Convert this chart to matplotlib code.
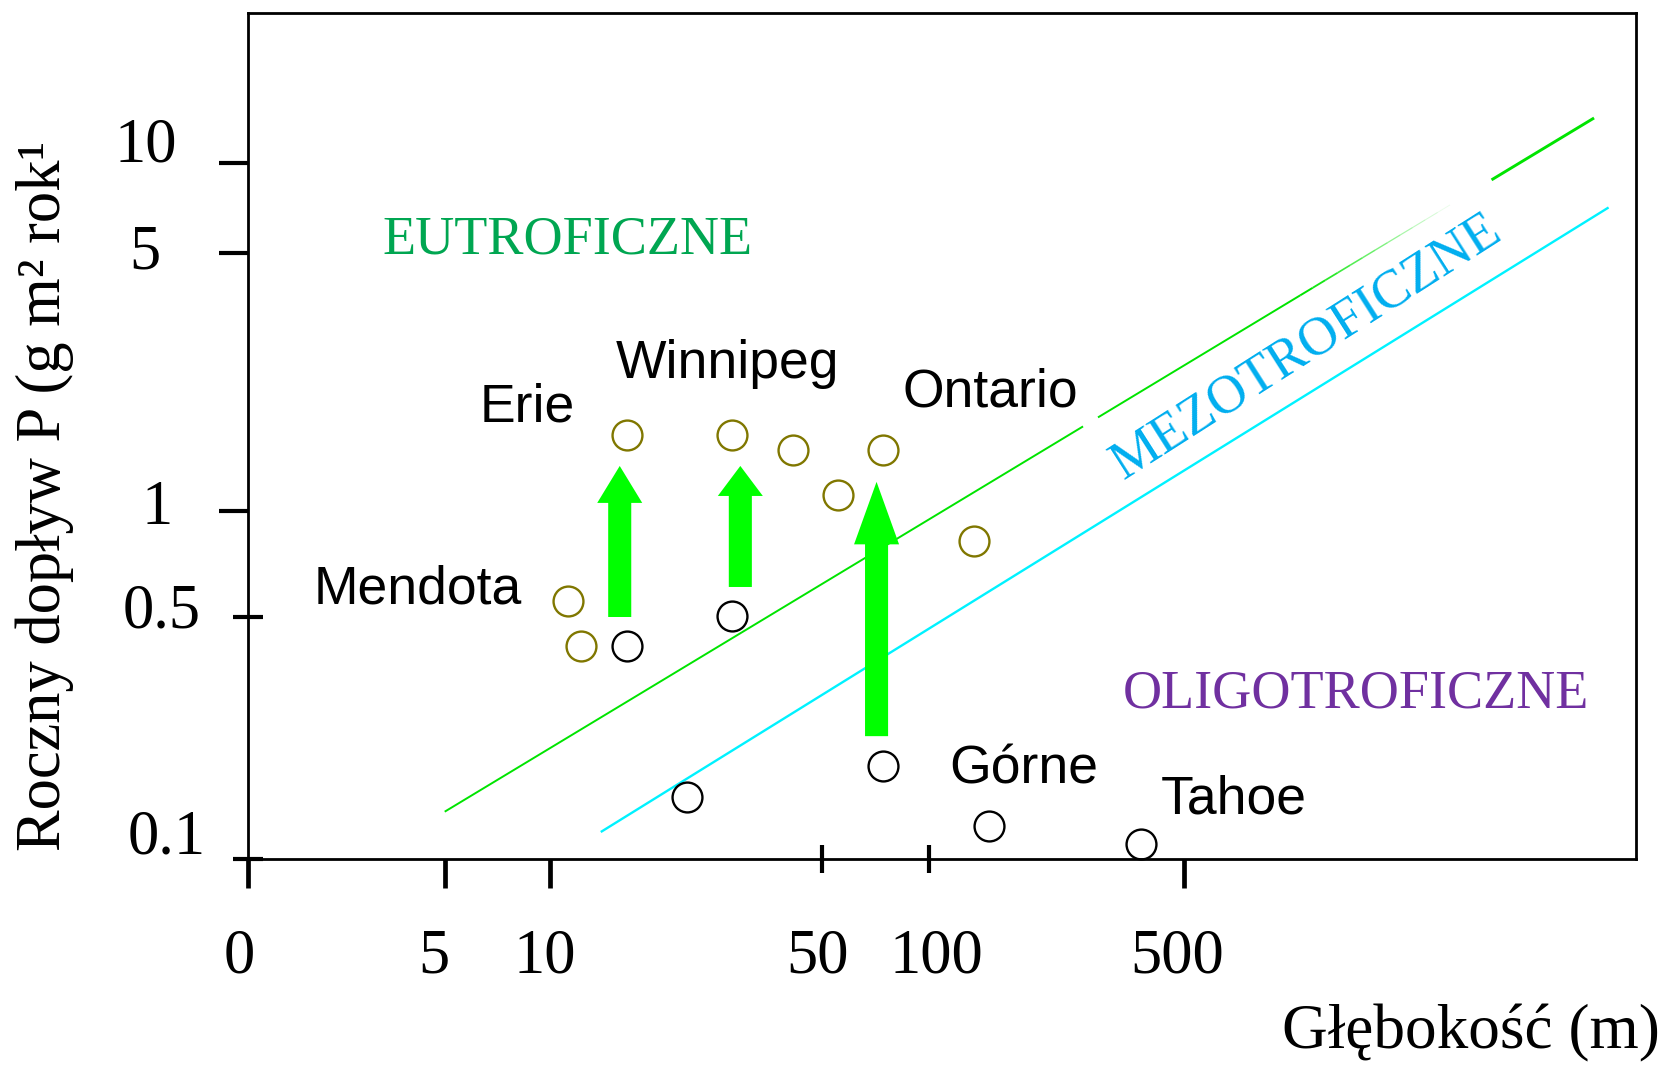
import numpy as np
import matplotlib
matplotlib.use("Agg")
import matplotlib.pyplot as plt
from matplotlib.ticker import FixedLocator, NullFormatter

# ---------------- data ----------------
x_tick_values = [0, 5, 10, 50, 100, 500]
x_tick_labels = ["0", "5", "10", "50", "100", "500"]
y_tick_values = [0.1, 0.5, 1, 5, 10]
y_tick_labels = ["0.1", "0.5", "1", "5", "10"]

# recent (olive) and earlier (black) lake states: depth (m), annual P load
recent_depth = [15.8, 29.3, 42.0, 55.5, 74.2, 133.0, 11.1, 12.0]
recent_load = [1.60, 1.60, 1.46, 1.10, 1.46, 0.823, 0.555, 0.413]
past_depth = [15.8, 29.3, 22.5, 74.2, 146.5, 382.0]
past_load = [0.413, 0.502, 0.151, 0.185, 0.124, 0.110]

# eutrophication arrows
arrow_depth = [15.1, 30.8, 71.2]
arrow_from = [0.50, 0.608, 0.226]
arrow_to = [1.322, 1.322, 1.197]

# boundary lines
eutrophic_limit_depth = [5, 6632]
eutrophic_limit_load = [0.1366, 14.1]
oligotrophic_limit_depth = [13.5, 7268]
oligotrophic_limit_load = [0.1193, 7.10]

lake_names = ["Erie", "Winnipeg", "Ontario", "Mendota", "Górne", "Tahoe"]
zone_names = ["EUTROFICZNE", "MEZOTROFICZNE", "OLIGOTROFICZNE"]
x_label = "Głębokość (m)"
y_label = "Roczny dopływ P (g m² rok¹"

# ---------------- layout / style ----------------
W, H = 1668, 1065
SERIF = "Liberation Serif"
SANS = "Liberation Sans"

# axis anchor positions (pixels) of the hand-drawn, roughly logarithmic axes
X_ANCHOR_VAL = np.array([5, 10, 50, 100, 500.0])
X_ANCHOR_PX = np.array([444.7, 550.0, 822.3, 928.7, 1184.0])
X_ZERO_PX = 247.9
Y_ANCHOR_VAL = np.array([0.1, 0.5, 1, 5, 10.0])
Y_ANCHOR_PX = -np.array([858.5, 617.0, 510.6, 253.2, 162.8])

AX_L, AX_R, AX_T, AX_B = 247.9, 1636.1, 12.8, 858.5


def make_scale(vals, pos, zero_pos=None):
    L = np.log10(vals)
    sL = (pos[1] - pos[0]) / (L[1] - L[0])
    sR = (pos[-1] - pos[-2]) / (L[-1] - L[-2])

    def fwd(v):
        v = np.asarray(v, float)
        lv = np.log10(np.clip(v, 1e-12, None))
        out = np.interp(lv, L, pos)
        out = np.where(lv > L[-1], pos[-1] + (lv - L[-1]) * sR, out)
        if zero_pos is None:
            out = np.where(lv < L[0], pos[0] + (lv - L[0]) * sL, out)
        else:
            out = np.where(v < vals[0], zero_pos + v / vals[0] * (pos[0] - zero_pos), out)
        return out

    def inv(p):
        p = np.asarray(p, float)
        lv = np.interp(p, pos, L)
        lv = np.where(p > pos[-1], L[-1] + (p - pos[-1]) / sR, lv)
        if zero_pos is None:
            lv = np.where(p < pos[0], L[0] + (p - pos[0]) / sL, lv)
        lv = np.clip(lv, -200, 200)
        out = 10.0 ** lv
        if zero_pos is not None:
            out = np.where(p < pos[0], (p - zero_pos) / (pos[0] - zero_pos) * vals[0], out)
        return out

    return fwd, inv


xf, xi = make_scale(X_ANCHOR_VAL, X_ANCHOR_PX, X_ZERO_PX)
yf, yi = make_scale(Y_ANCHOR_VAL, Y_ANCHOR_PX)

fig = plt.figure(figsize=(W / 100, H / 100), dpi=100)
ax = fig.add_axes([AX_L / W, 1 - AX_B / H, (AX_R - AX_L) / W, (AX_B - AX_T) / H])
ax.set_xscale("function", functions=(xf, xi))
ax.set_yscale("function", functions=(yf, yi))
ax.set_xlim(0, float(xi(AX_R)))
ax.set_ylim(0.1, float(yi(-AX_T)))

for s in ax.spines.values():
    s.set_linewidth(2.0)
    s.set_color("black")

# ticks
x_inout = [50, 100]
y_inout = [0.1, 0.5]
ax.xaxis.set_major_locator(FixedLocator([v for v in x_tick_values if v not in x_inout]))
ax.xaxis.set_minor_locator(FixedLocator(x_inout))
ax.yaxis.set_major_locator(FixedLocator([v for v in y_tick_values if v not in y_inout]))
ax.yaxis.set_minor_locator(FixedLocator(y_inout))
for axis in (ax.xaxis, ax.yaxis):
    axis.set_major_formatter(NullFormatter())
    axis.set_minor_formatter(NullFormatter())
ax.tick_params(axis="x", which="major", direction="out", length=21, width=3.4)
ax.tick_params(axis="x", which="minor", direction="inout", length=20, width=3.0)
ax.tick_params(axis="y", which="major", direction="out", length=21, width=3.0)
ax.tick_params(axis="y", which="minor", direction="inout", length=22, width=3.0)

# tick labels
TICK_FS = 45
x_lab_dx = [-8.5, -10.7, -5.3, -5.3, 7.3, -6.4]
for v, lab, dx in zip(x_tick_values, x_tick_labels, x_lab_dx):
    ax.annotate(lab, xy=(v, 0), xycoords=("data", "axes fraction"),
                xytext=(dx, -114), textcoords="offset pixels",
                ha="center", va="baseline", fontsize=TICK_FS, family=SERIF,
                annotation_clip=False)
y_lab_dx = [-80.9, -86.2, -90.5, -103.2, -102.2]
y_lab_dy = [5.5, -10.5, -13.5, -15.5, 1.5]
for v, lab, dx, dy in zip(y_tick_values, y_tick_labels, y_lab_dx, y_lab_dy):
    ax.annotate(lab, xy=(0, v), xycoords=("axes fraction", "data"),
                xytext=(dx, dy), textcoords="offset pixels",
                ha="center", va="baseline", fontsize=TICK_FS, family=SERIF,
                annotation_clip=False)


def fp(x, y):
    return x / W, 1 - y / H


fig.text(*fp(1659.6, 1048), x_label, ha="right", va="baseline", fontsize=45.5, family=SERIF)
fig.text(*fp(45, 496), y_label, ha="center", va="center", rotation=90, fontsize=45, family=SERIF)

# boundary lines
GREEN_LINE = "#00E400"
CYAN_LINE = "#00F2FF"
ax.plot(oligotrophic_limit_depth, oligotrophic_limit_load, color=CYAN_LINE, lw=1.7,
        solid_capstyle="butt", zorder=2)

p0 = ax.transData.transform((eutrophic_limit_depth[0], eutrophic_limit_load[0]))
p1 = ax.transData.transform((eutrophic_limit_depth[1], eutrophic_limit_load[1]))
inv_t = ax.transData.inverted()


def seg(t0, t1):
    a = p0 + t0 * (p1 - p0)
    b = p0 + t1 * (p1 - p0)
    pts = inv_t.transform(np.array([a, b]))
    return pts[:, 0], pts[:, 1]


for t0, t1, lw in [(0.0, 0.5554, 1.4), (0.5684, 0.7443, 1.4), (0.9108, 1.0, 2.1)]:
    sx, sy = seg(t0, t1)
    ax.plot(sx, sy, color=GREEN_LINE, lw=lw, solid_capstyle="butt", zorder=2)
fade_t = np.linspace(0.7443, 0.8747, 13)
for i in range(len(fade_t) - 1):
    sx, sy = seg(fade_t[i], fade_t[i + 1])
    a = 1.0 - i / (len(fade_t) - 1)
    ax.plot(sx, sy, color=GREEN_LINE, lw=1.4 - 0.8 * i / 12, alpha=max(a, 0.08),
            solid_capstyle="butt", zorder=2)

# arrows
head_lengths = [26.6, 21.6, 45.0]
for xv, y0, y1, hl in zip(arrow_depth, arrow_from, arrow_to, head_lengths):
    ax.annotate("", xy=(xv, y1), xytext=(xv, y0), xycoords="data",
                arrowprops=dict(arrowstyle=f"simple,head_length={hl},head_width=32.4,tail_width=16.6",
                                mutation_scale=1, fc="#00FF00", ec="none", lw=0,
                                shrinkA=0, shrinkB=0), zorder=3)

# lake markers
ax.plot(recent_depth, recent_load, "o", ms=21.5, mfc="none", mec="#807700", mew=1.7,
        zorder=4, clip_on=False)
ax.plot(past_depth, past_load, "o", ms=21.5, mfc="none", mec="black", mew=1.7,
        zorder=4, clip_on=False)

# lake names
LAKE_FS = 38.5
lake_label_px = [(479.5, 421), (616, 377.7), (903, 406.4), (313.5, 603.2), (949.5, 784), (1161, 813.8)]
for name, (px, py) in zip(lake_names, lake_label_px):
    fig.text(*fp(px, py), name, ha="left", va="baseline", fontsize=LAKE_FS, family=SANS)

# zone names
ZONE_FS = 39
fig.text(*fp(567, 253), zone_names[0], ha="center", va="baseline", fontsize=ZONE_FS,
         family=SERIF, color="#00A651")
fig.text(*fp(1314, 358), zone_names[1], ha="center", va="baseline", fontsize=ZONE_FS,
         family=SERIF, color="#00AEEF", rotation=32.5, rotation_mode="anchor")
fig.text(*fp(1356, 707), zone_names[2], ha="center", va="baseline", fontsize=ZONE_FS,
         family=SERIF, color="#7030A0")

fig.savefig("out.png", dpi=100)
